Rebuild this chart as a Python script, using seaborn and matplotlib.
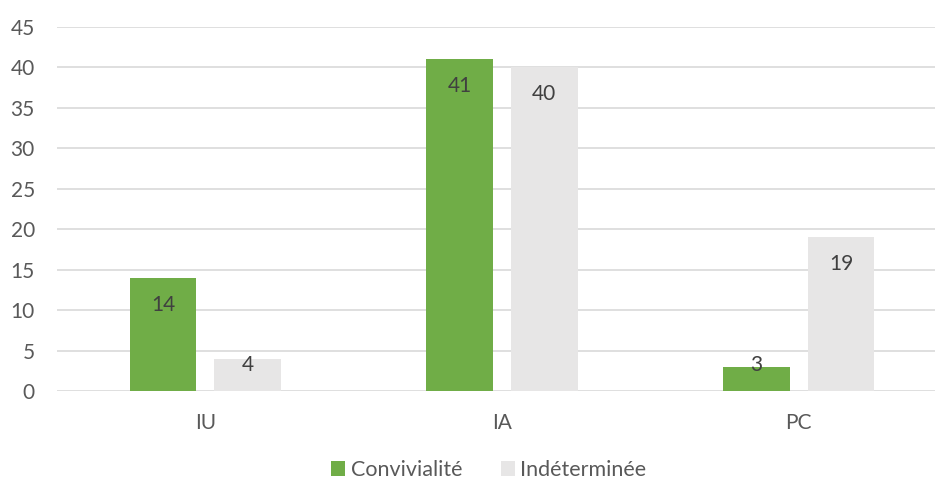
import matplotlib
matplotlib.use("Agg")
import matplotlib.pyplot as plt
import seaborn as sns
import pandas as pd

categories = ["IU", "IA", "PC"]
series_names = ["Convivialité", "Indéterminée"]
convivialite = [14, 41, 3]
indeterminee = [4, 40, 19]
yticks = [0, 5, 10, 15, 20, 25, 30, 35, 40, 45]

colors = {"Convivialité": "#70AD47", "Indéterminée": "#E7E6E6"}

df = pd.DataFrame({
    "cat": categories * 2,
    "serie": [series_names[0]] * 3 + [series_names[1]] * 3,
    "val": convivialite + indeterminee,
})

sns.set_theme(style="white")
plt.rcParams["font.family"] = ["Lato", "DejaVu Sans"]

fig = plt.figure(figsize=(9.35, 4.84), dpi=100)
ax = fig.add_axes([57 / 935, 93 / 484, 1 - 57 / 935, 364 / 484])

sns.barplot(data=df, x="cat", y="val", hue="serie", order=categories,
            hue_order=series_names, palette=colors, width=0.571, gap=0.213,
            saturation=1, linewidth=0, ax=ax, legend=True)

ax.set_ylim(0, 45)
ax.set_xlim(-0.5, 2.46)
ax.set_yticks(yticks)
ax.set_yticklabels([str(t) for t in yticks])
ax.yaxis.grid(True, color="#D9D9D9", linewidth=1.2)
ax.set_axisbelow(True)
for s in ax.spines.values():
    s.set_visible(False)
ax.set_xlabel("")
ax.set_ylabel("")
ax.tick_params(axis="y", length=0, pad=16, labelsize=15, labelcolor="#595959")
ax.tick_params(axis="x", length=0, pad=16, labelsize=15, labelcolor="#595959")

px = 45 / 364.0
for cont, vals in zip(ax.containers, [convivialite, indeterminee]):
    for bar, v in zip(cont, vals):
        yy = max(v - 27 * px, 26 * px)
        ax.text(bar.get_x() + bar.get_width() / 2, yy, str(v), ha="center",
                va="center", fontsize=15, color="#404040")

h, l = ax.get_legend_handles_labels()
ax.get_legend().remove()
fig.legend(h, l, loc="center", bbox_to_anchor=(489 / 935, 14 / 484), ncol=2,
           frameon=False, fontsize=15.5, handlelength=0.65, handleheight=0.65,
           handletextpad=0.25, columnspacing=1.8, labelcolor="#595959")

fig.savefig("out.png", dpi=100)
